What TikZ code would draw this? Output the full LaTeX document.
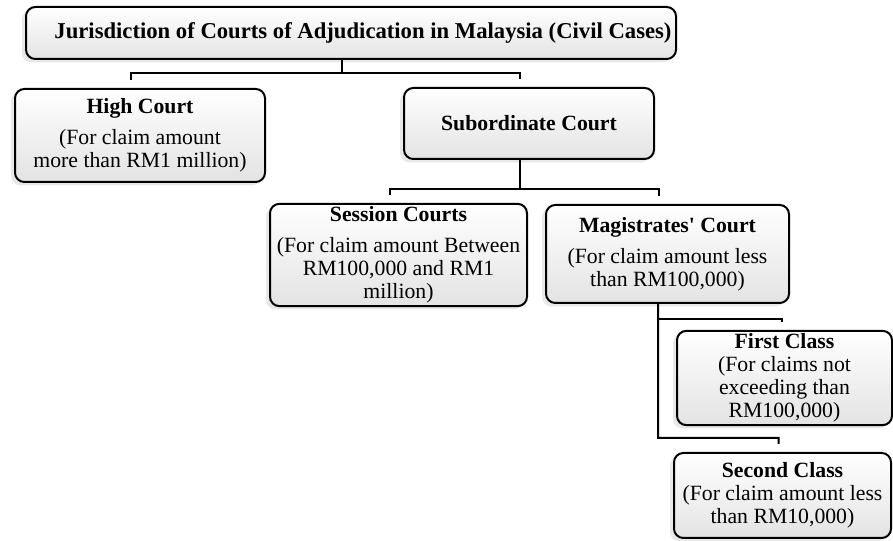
\documentclass[tikz,border=0pt]{standalone}
\usepackage{fontspec}
\setmainfont{Liberation Serif}
\usepackage{tikz}
\usetikzlibrary{calc}
\usetikzlibrary{positioning}
\usetikzlibrary{shadows}

\tikzset{
	court/.style={draw, line width=1.5pt, rounded corners=7pt, top color=white, bottom color=gray!22,
		drop shadow={shadow xshift=-3pt, shadow yshift=-2.5pt, opacity=.18},
		align=center, inner sep=2pt, font=\fontsize{16.3}{17.3}\selectfont},
	link/.style={line width=1.5pt, shorten >=6pt}
}

\begin{document}
\begin{tikzpicture}[x=0.75pt,y=-0.75pt]
			\useasboundingbox (0,0) rectangle (893,541);
			%title box
			\node[court, minimum width=487.5pt, minimum height=39pt, font=\fontsize{17}{18}\selectfont] (title) at (351,33)
				{\hspace*{18pt}\textbf{Jurisdiction of Courts of Adjudication in Malaysia (Civil Cases)}};
			%high court and subordinate court
			\node[court, minimum width=187.5pt, minimum height=69.75pt] (high) at (140,135.5)
				{\textbf{High Court}\\[6pt](For claim amount\\more than RM1 million)};
			\node[court, minimum width=187.5pt, minimum height=53.25pt] (sub) at (529,123.5)
				{\textbf{Subordinate Court}};
			%session and magistrates
			\node[court, minimum width=192.75pt, minimum height=73.5pt] (session) at (398.5,255)
				{\textbf{Session Courts}\\[6pt](For claim amount Between\\RM100,000 and RM1\\million)};
			\node[court, minimum width=182.25pt, minimum height=73.5pt] (magis) at (667.5,254)
				{\textbf{Magistrates\textquotesingle{} Court}\\[6pt](For claim amount less\\than RM100,000)};
			%first and second class
			\node[court, minimum width=161.25pt, minimum height=64.5pt] (first) at (784.5,378)
				{\textbf{First Class}\\(For claims not\\exceeding than\\RM100,000)};
			\node[court, minimum width=162.75pt, minimum height=63.75pt] (second) at (782.5,495.5)
				{\textbf{Second Class}\\(For claim amount less\\than RM10,000)};
			%connecting lines
			\coordinate (bus1) at ($(title.south)+(-9,13)$);
			\draw[link] ([xshift=-6.75pt]title.south) -- (bus1) -| ([xshift=-6.75pt]high.north);
			\draw[link] (bus1) -| ([xshift=-6.75pt]sub.north);
			\coordinate (bus2) at ($(sub.south)+(-9,29)$);
			\draw[link] ([xshift=-6.75pt]sub.south) -- (bus2) -| ([xshift=-6.75pt]session.north);
			\draw[link] (bus2) -| ([xshift=-6.75pt]magis.north);
			\coordinate (m1) at ($(magis.south)+(-9.5,15)$);
			\coordinate (m2) at ($(magis.south)+(-9.5,134)$);
			\draw[link] ([xshift=-7pt]magis.south) -- (m2) -| ([xshift=-3pt]second.north);
			\draw[link] (m1) -| ([xshift=-2pt]first.north);
		\end{tikzpicture}
\end{document}
